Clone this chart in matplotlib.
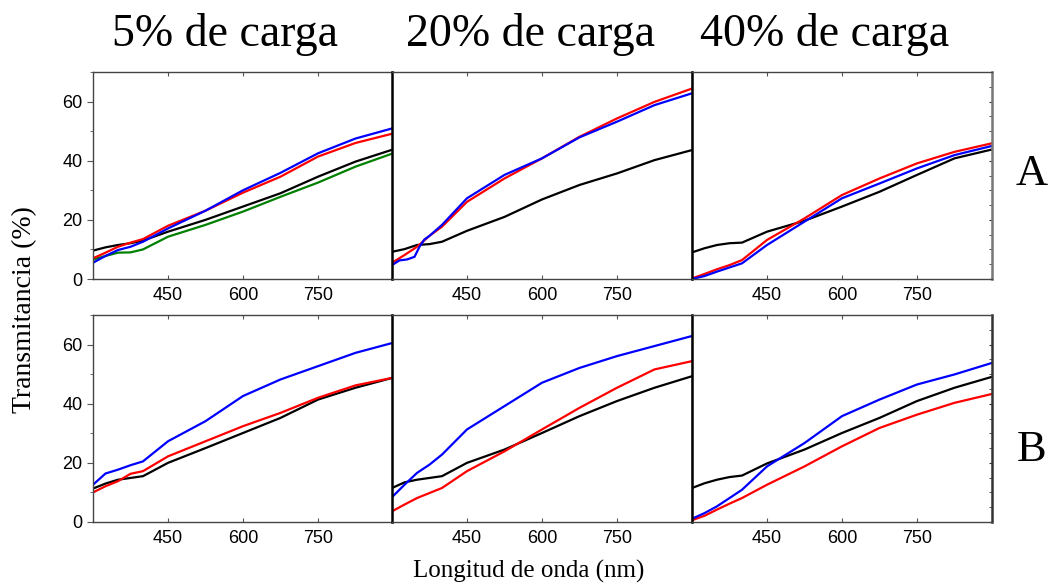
import numpy as np
import matplotlib
matplotlib.use("Agg")
import matplotlib.pyplot as plt
from matplotlib.ticker import MultipleLocator

# wavelength grid (nm)
wl = [300, 325, 350, 375, 400, 450, 525, 600, 675, 750, 825, 900]
# the blue curve in the 20% / A panel has a kink near 350 nm
wl_kink = [300, 315, 330, 345, 355, 365, 375, 400, 450, 525, 600, 675, 750, 825, 900]

titles = ["5% de carga", "20% de carga", "40% de carga"]
row_labels = ["A", "B"]

# row A
a5_black = [9.6, 10.7, 11.5, 12.1, 13.0, 16.0, 20.0, 24.5, 29.0, 34.6, 39.7, 43.8]
a5_green = [6.6, 7.8, 8.9, 9.0, 10.0, 14.3, 18.3, 22.8, 27.8, 32.6, 38.0, 42.5]
a5_red = [7.0, 8.9, 10.9, 12.3, 13.5, 18.0, 23.1, 29.2, 34.6, 41.4, 46.0, 49.2]
a5_blue = [5.5, 7.8, 9.8, 10.9, 12.6, 17.1, 23.1, 30.0, 35.9, 42.5, 47.5, 51.0]

a20_black = [9.2, 10.1, 11.5, 11.8, 12.6, 16.3, 21.0, 26.9, 31.8, 35.7, 40.2, 43.6]
a20_red = [5.5, 8.1, 10.9, 14.6, 17.7, 26.1, 34.0, 40.8, 48.1, 54.3, 59.9, 64.4]
a20_blue = [4.7, 6.3, 6.6, 7.5, 10.9, 13.4, 14.6, 18.3, 27.3, 35.2, 40.8, 47.9, 53.2, 58.8, 62.8]

a40_black = [9.0, 10.4, 11.5, 12.1, 12.3, 16.0, 19.7, 24.5, 29.5, 35.2, 40.8, 43.8]
a40_red = [0.2, 1.7, 3.3, 4.7, 6.4, 13.2, 20.5, 28.4, 34.0, 39.1, 43.0, 45.9]
a40_blue = [0.0, 1.0, 2.5, 3.9, 5.3, 11.5, 19.4, 27.3, 32.3, 37.4, 41.9, 45.0]

# row B
b5_black = [11.3, 13.0, 14.3, 14.9, 15.5, 20.0, 25.0, 30.1, 35.2, 41.4, 45.4, 48.8]
b5_red = [10.0, 12.1, 13.8, 16.3, 17.2, 22.2, 27.3, 32.4, 36.9, 42.0, 46.2, 48.8]
b5_blue = [12.6, 16.4, 17.7, 19.2, 20.5, 27.3, 34.1, 42.6, 48.2, 52.7, 57.2, 60.6]

b20_black = [11.5, 13.4, 14.3, 14.9, 15.5, 20.0, 24.5, 30.1, 35.8, 40.9, 45.4, 49.3]
b20_red = [3.6, 5.9, 8.1, 9.8, 11.5, 17.2, 23.9, 31.3, 38.6, 45.4, 51.6, 54.4]
b20_blue = [8.4, 12.6, 16.6, 19.4, 22.8, 31.3, 39.2, 47.1, 52.1, 56.1, 59.5, 62.9]

b40_black = [11.5, 13.1, 14.3, 15.2, 15.7, 19.8, 24.5, 30.1, 35.2, 40.9, 45.4, 49.1]
b40_red = [0.6, 2.1, 4.2, 6.2, 8.1, 12.6, 18.8, 25.6, 31.8, 36.3, 40.3, 43.3]
b40_blue = [1.1, 3.0, 5.3, 8.1, 10.9, 18.8, 26.7, 35.8, 41.4, 46.5, 49.9, 53.8]

panels = [
    [[(wl, a5_black, "black"), (wl, a5_green, "green"), (wl, a5_red, "red"), (wl, a5_blue, "blue")],
     [(wl, a20_black, "black"), (wl, a20_red, "red"), (wl_kink, a20_blue, "blue")],
     [(wl, a40_black, "black"), (wl, a40_red, "red"), (wl, a40_blue, "blue")]],
    [[(wl, b5_black, "black"), (wl, b5_red, "red"), (wl, b5_blue, "blue")],
     [(wl, b20_black, "black"), (wl, b20_red, "red"), (wl, b20_blue, "blue")],
     [(wl, b40_black, "black"), (wl, b40_red, "red"), (wl, b40_blue, "blue")]],
]

serif = "Liberation Serif"
plt.rcParams["font.family"] = "Liberation Sans"

fig = plt.figure(figsize=(10.49, 5.85), dpi=100)
W, H = 1049, 585
left_px = [93, 392, 692]
panel_w = 300
tops = [72, 315]
panel_h = 207

for r in range(2):
    for c in range(3):
        ax = fig.add_axes([left_px[c] / W, 1 - (tops[r] + panel_h) / H,
                           panel_w / W, panel_h / H])
        for x, y, col in panels[r][c]:
            ax.plot(x, y, color=col, lw=1.6)
        ax.set_xlim(300, 900)
        ax.set_ylim(0, 70)
        ax.set_xticks([450, 600, 750])
        ax.set_yticks([0, 20, 40, 60])
        for s in ax.spines.values():
            s.set_color("#444444")
            s.set_linewidth(1.0)
        if c > 0:
            ax.spines["left"].set_color("black")
            ax.spines["left"].set_linewidth(1.8)
        if c == 2:
            ax.spines["right"].set_color("#777777" if r == 0 else "#333333")
            ax.spines["right"].set_linewidth(1.8)
        ax.tick_params(axis="x", direction="in", length=3, top=True,
                       labelsize=13, color="#555555", pad=6)
        if c == 0:
            ax.yaxis.set_minor_locator(MultipleLocator(10))
            ax.tick_params(axis="y", which="major", direction="out", length=4,
                           labelsize=13, color="#555555")
            ax.tick_params(axis="y", which="minor", direction="out", length=2,
                           color="#555555")
        elif c == 2:
            ax.yaxis.set_minor_locator(MultipleLocator(5))
            ax.tick_params(axis="y", which="both", direction="in", length=2.5,
                           left=False, right=True, labelleft=False,
                           color="#333333")
        else:
            ax.tick_params(axis="y", which="both", left=False,
                           labelleft=False)

title_x = [225, 530, 825]
for t, tx in zip(titles, title_x):
    fig.text(tx / W, 1 - 34 / H, t, family=serif, fontsize=33,
             ha="center", va="center")

fig.text(1032 / W, 1 - 174 / H, row_labels[0], family=serif, fontsize=32,
         ha="center", va="center")
fig.text(1032 / W, 1 - 450 / H, row_labels[1], family=serif, fontsize=32,
         ha="center", va="center")

fig.text(25 / W, 1 - 310 / H, "Transmitancia (%)", family=serif, fontsize=20,
         rotation=90, ha="center", va="center")
fig.text(529 / W, 1 - 571 / H, "Longitud de onda (nm)", family=serif,
         fontsize=18, ha="center", va="center")

fig.savefig("out.png", dpi=100)
